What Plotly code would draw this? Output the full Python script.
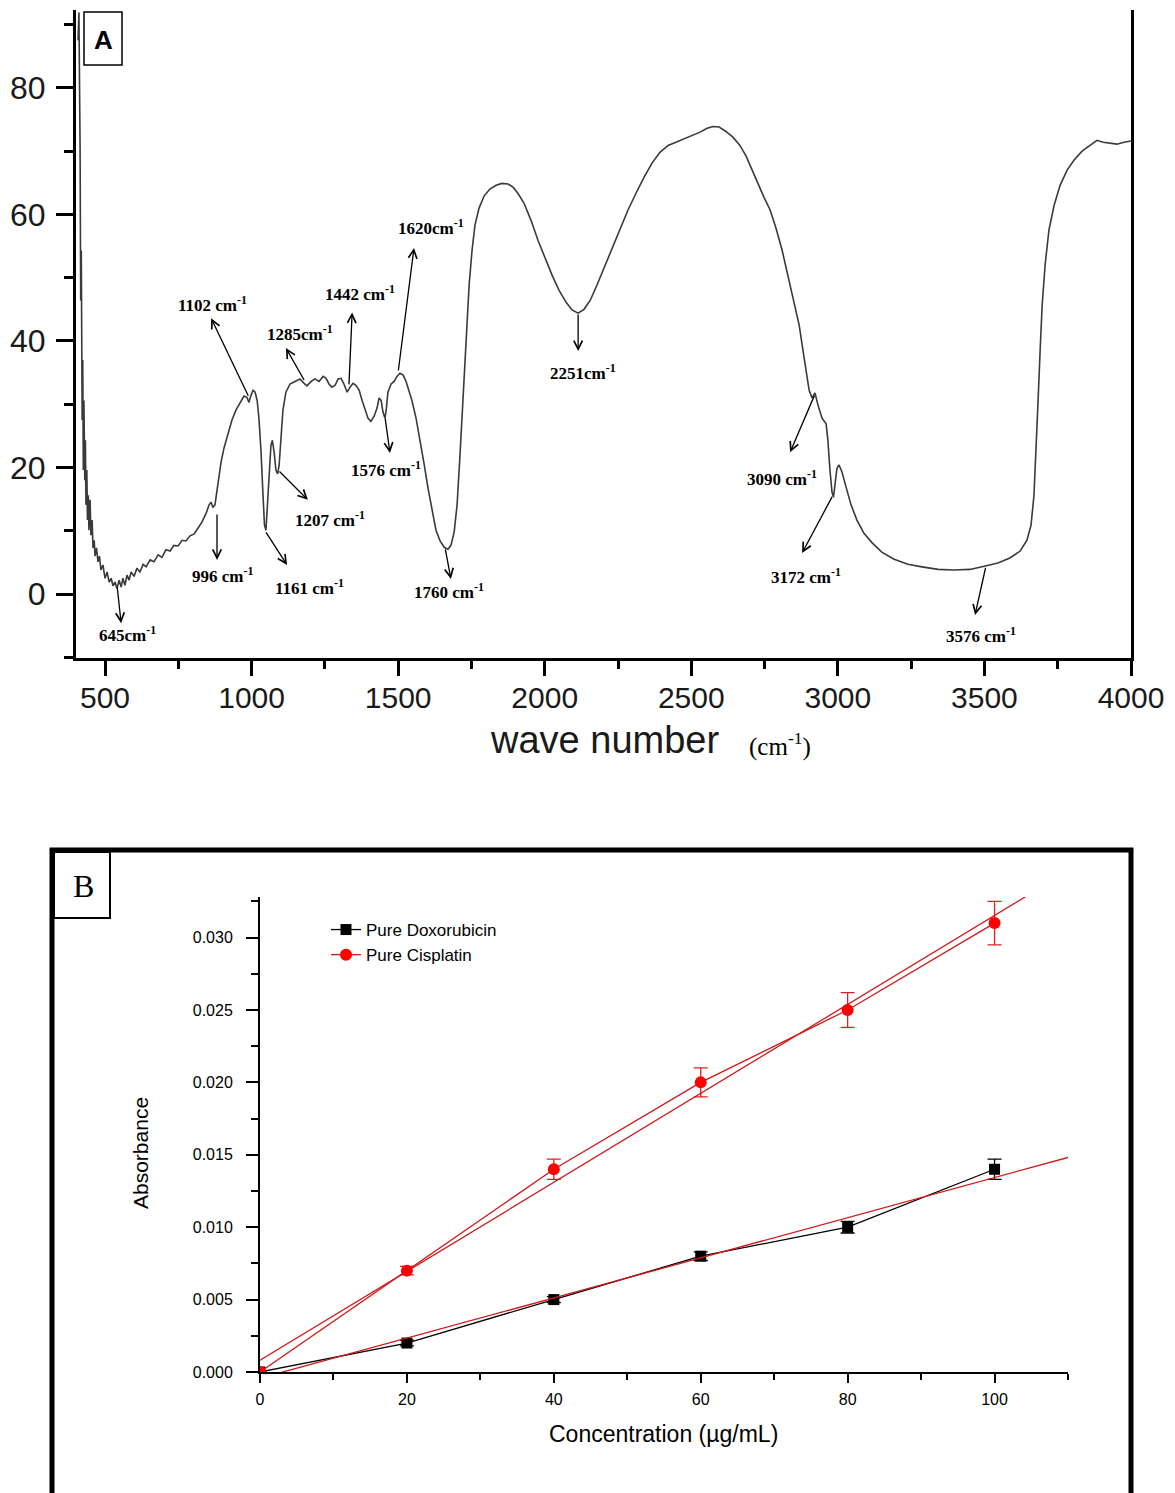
import numpy as np
import plotly.graph_objects as go

# ---------------- panel A : FTIR spectrum ----------------
wavenumber = [408, 411, 415, 417, 419, 422, 424, 426, 428, 431, 433, 435, 438, 440, 443, 445,
              449, 452, 456, 459, 463, 466, 471, 476, 481, 486, 493, 500, 507, 514, 521, 527,
              534, 541, 548, 555, 561, 568, 575, 582, 589, 599, 609, 619, 630, 640, 654, 667,
              681, 694, 708, 722, 735, 749, 763, 776, 790, 804, 817, 831, 845, 855, 862, 868,
              875, 882, 889, 896, 906, 920, 933, 947, 961, 974, 984, 991, 998, 1005, 1012, 1019,
              1025, 1032, 1039, 1044, 1049, 1054, 1060, 1066, 1071, 1077, 1083, 1089, 1094, 1100,
              1107, 1117, 1131, 1148, 1165, 1179, 1189, 1203, 1216, 1230, 1244, 1254, 1264, 1274,
              1285, 1295, 1305, 1315, 1326, 1336, 1346, 1356, 1367, 1377, 1387, 1397, 1407, 1418,
              1428, 1435, 1442, 1448, 1455, 1460, 1465, 1476, 1486, 1496, 1506, 1517, 1527, 1537,
              1547, 1561, 1575, 1588, 1602, 1616, 1629, 1643, 1657, 1670, 1680, 1691, 1701, 1711,
              1721, 1732, 1742, 1752, 1762, 1776, 1793, 1813, 1834, 1854, 1875, 1892, 1909, 1929,
              1953, 1977, 2001, 2025, 2049, 2073, 2093, 2114, 2134, 2155, 2178, 2202, 2230, 2257,
              2284, 2311, 2339, 2366, 2393, 2421, 2448, 2475, 2503, 2530, 2554, 2574, 2595, 2618,
              2642, 2666, 2687, 2707, 2728, 2748, 2769, 2789, 2810, 2830, 2850, 2868, 2881, 2891,
              2902, 2912, 2922, 2932, 2946, 2960, 2966, 2973, 2980, 2985, 2990, 2997, 3004, 3014,
              3028, 3045, 3065, 3089, 3117, 3151, 3192, 3239, 3287, 3342, 3396, 3451, 3499, 3546,
              3587, 3622, 3645, 3659, 3669, 3676, 3683, 3690, 3697, 3707, 3720, 3738, 3758, 3782,
              3806, 3833, 3860, 3884, 3905, 3929, 3952, 3976, 4000]
transmittance = [87.5, 91.9, 70.1, 46.4, 54.3, 27.5, 37.0, 19.6, 30.6, 18.0, 24.3, 14.1, 19.6, 11.7, 15.6, 10.1,
                 14.9, 9.3, 11.7, 7.3, 8.5, 6.0, 7.3, 5.1, 6.0, 3.8, 4.6, 2.5, 3.5, 1.9, 2.5, 1.3,
                 1.9, 0.9, 2.2, 1.1, 2.5, 1.4, 3.0, 2.2, 3.5, 2.8, 4.1, 3.5, 4.7, 4.3, 5.4, 5.1,
                 6.2, 5.8, 7.0, 6.8, 7.7, 7.6, 8.5, 8.4, 9.2, 9.5, 10.4, 11.4, 12.8, 14.1, 14.5, 13.7,
                 14.1, 16.4, 18.8, 20.9, 23.1, 25.6, 27.5, 29.1, 30.3, 31.3, 31.1, 30.3, 31.4, 32.2, 31.9, 30.6,
                 27.8, 22.7, 15.6, 10.9, 10.1, 14.1, 19.6, 23.5, 24.3, 22.4, 19.6, 19.0, 20.4, 24.3,
                 29.1, 31.9, 33.2, 33.6, 34.0, 33.3, 32.9, 33.6, 34.0, 33.6, 34.4, 34.1, 33.2, 32.7,
                 33.0, 34.0, 34.1, 33.2, 31.9, 32.7, 33.3, 33.0, 32.2, 30.6, 29.1, 27.8, 27.3, 28.1,
                 29.4, 31.0, 30.6, 28.8, 27.8, 29.4, 31.9, 33.2, 33.6, 34.4, 34.9, 34.6, 33.6, 32.2,
                 30.6, 27.8, 24.3, 20.7, 16.7, 13.0, 10.1, 8.4, 7.4, 7.1, 7.7, 9.8, 14.1, 22.0,
                 31.4, 40.9, 48.8, 54.3, 58.3, 61.0, 62.9, 64.0, 64.6, 64.9, 64.8, 64.3, 63.3, 61.8,
                 59.1, 55.9, 53.1, 50.4, 48.0, 46.1, 44.9, 44.4, 45.0, 46.4, 48.8, 51.5, 54.7, 57.8,
                 60.7, 63.3, 65.9, 68.1, 69.8, 70.9, 71.4, 71.9, 72.5, 73.0, 73.6, 73.9, 73.8, 73.1,
                 72.2, 70.9, 69.2, 67.0, 64.8, 62.7, 60.7, 57.8, 54.3, 50.4, 46.4, 42.5, 38.5, 35.1,
                 32.2, 31.0, 31.8, 29.9, 27.8, 26.9, 24.3, 19.6, 16.1, 15.3, 17.7, 19.9, 20.4, 19.3,
                 16.9, 14.1, 11.7, 9.6, 8.1, 6.6, 5.5, 4.7, 4.3, 3.9, 3.8, 3.9, 4.4, 4.9,
                 5.7, 6.8, 8.5, 10.9, 15.6, 22.0, 30.6, 38.5, 45.7, 52.0, 57.5, 61.5, 64.6, 67.0,
                 68.6, 70.0, 70.9, 71.7, 71.4, 71.2, 71.1, 71.4, 71.6]

peak_labels = ["645cm<sup>-1</sup>", "996 cm<sup>-1</sup>", "1161 cm<sup>-1</sup>", "1207 cm<sup>-1</sup>",
               "1102 cm<sup>-1</sup>", "1285cm<sup>-1</sup>", "1442 cm<sup>-1</sup>", "1576 cm<sup>-1</sup>",
               "1620cm<sup>-1</sup>", "1760 cm<sup>-1</sup>", "2251cm<sup>-1</sup>", "3090 cm<sup>-1</sup>",
               "3172 cm<sup>-1</sup>", "3576 cm<sup>-1</sup>"]

# ---------------- panel B : calibration ----------------
concentration = [0, 20, 40, 60, 80, 100]
dox_abs = [0.000, 0.002, 0.005, 0.008, 0.010, 0.014]
dox_err = [0.0, 0.0002, 0.0002, 0.0003, 0.0004, 0.0007]
cis_abs = [0.000, 0.007, 0.014, 0.020, 0.025, 0.031]
cis_err = [0.0, 0.0003, 0.0007, 0.0010, 0.0012, 0.0015]

W, H = 1175, 1493
OFF = 8  # page body margin in the browser


def fx(p):
    return (p - OFF) / W


def fy(p):
    return 1 - (p - OFF) / H


fig = go.Figure()

fig.add_trace(go.Scatter(x=wavenumber, y=transmittance, mode='lines',
                         line=dict(color='#3a3a3a', width=1.6),
                         xaxis='x', yaxis='y', showlegend=False))

# data + linear fits
series = [("Pure Doxorubicin", dox_abs, dox_err, 'black', 'square', 11),
          ("Pure Cisplatin", cis_abs, cis_err, '#ff0000', 'circle', 12)]
for name, yv, ev, col, sym, sz in series:
    fig.add_trace(go.Scatter(x=concentration, y=yv, mode='lines+markers', name=name,
                             line=dict(color=col if col == 'black' else '#d01818', width=1.3),
                             marker=dict(symbol=sym, size=sz, color=col),
                             error_y=dict(type='data', array=ev, color=col if col == 'black' else '#e02020',
                                          thickness=1.3, width=7),
                             xaxis='x2', yaxis='y2'))
for yv in (dox_abs, cis_abs):
    k, b = np.polyfit(concentration, yv, 1)
    xf = np.array([0, 110])
    fig.add_trace(go.Scatter(x=xf, y=k * xf + b, mode='lines', line=dict(color='#d01818', width=1.3),
                             xaxis='x2', yaxis='y2', showlegend=False, hoverinfo='skip'))

# peak arrows: text position, arrow tail (on curve), arrow head
arrow_pos = [(578, -6.3, 541, 1.4, 555, -4.6), (902, 3.0, 882, 12.8, 882, 5.4),
             (1196, 1.1, 1046, 10.0, 1121, 4.6), (1267, 11.8, 1090, 19.6, 1192, 14.9),
             (868, 45.8, 991, 31.1, 862, 43.6), (1165, 41.2, 1182, 33.6, 1117, 38.9),
             (1370, 47.6, 1332, 32.9, 1343, 44.5), (1459, 19.7, 1455, 28.0, 1472, 22.3),
             (1612, 58.0, 1500, 35.1, 1554, 54.7), (1674, 0.5, 1660, 7.3, 1680, 2.4),
             (2131, 35.1, 2114, 44.4, 2114, 38.4), (2810, 18.3, 2922, 31.6, 2837, 22.4),
             (2891, 2.8, 2983, 15.6, 2878, 6.5), (3488, -6.5, 3505, 4.4, 3468, -3.3)]
serif = 'Liberation Serif, Times New Roman, serif'
for lab, (tx, ty, ax, ay, hx, hy) in zip(peak_labels, arrow_pos):
    fig.add_annotation(x=hx, y=hy, ax=ax, ay=ay, xref='x', yref='y', axref='x', ayref='y',
                       showarrow=True, arrowhead=5, arrowsize=1.3, arrowwidth=1.3,
                       arrowcolor='black', standoff=0, startstandoff=0, text='')
    fig.add_annotation(x=tx, y=ty, xref='x', yref='y', text=lab, showarrow=False,
                       font=dict(family=serif, size=17, color='black', weight='bold'))


def note(px_, py_, text, **kw):
    fig.add_annotation(x=fx(px_), y=fy(py_), xref='paper', yref='paper', text=text,
                       showarrow=False, xanchor='center', yanchor='middle', **kw)


# axis titles and panel letters
note(604, 740, 'wave number', font=dict(size=38, color='#1a1a1a'))
note(780, 745, '(cm<sup>-1</sup>)', font=dict(family=serif, size=25, color='black'))
note(103, 40, 'A', font=dict(size=26, color='black', weight='bold'))
note(83, 886, 'B', font=dict(family=serif, size=32, color='black'))
note(140, 1153, 'Absorbance', textangle=-90, font=dict(size=21, color='black'))
note(663, 1434, 'Concentration (µg/mL)', font=dict(size=23, color='black'))

fig.add_shape(type='rect', xref='paper', yref='paper', x0=fx(84), x1=fx(122), y0=fy(65), y1=fy(12),
              line=dict(color='black', width=1.5))
fig.add_shape(type='rect', xref='paper', yref='paper', x0=fx(52), x1=fx(1131), y0=fy(1530), y1=fy(850),
              line=dict(color='black', width=5))
fig.add_shape(type='rect', xref='paper', yref='paper', x0=fx(54), x1=fx(110), y0=fy(918), y1=fy(852),
              line=dict(color='black', width=2))

axA = dict(showline=True, linecolor='black', linewidth=3, ticks='outside', tickcolor='black',
           tickwidth=3, ticklen=15, showgrid=False, zeroline=False, automargin=False)
axB = dict(showline=True, linecolor='black', linewidth=2, ticks='outside', tickcolor='black',
           tickwidth=2, showgrid=False, zeroline=False, automargin=False,
           tickfont=dict(size=16, color='black'))

fig.update_layout(
    width=W, height=H, margin=dict(l=0, r=0, t=0, b=0, autoexpand=False),
    paper_bgcolor='white', plot_bgcolor='white',
    font=dict(family='Liberation Sans, Arial, sans-serif', color='black'),
    xaxis=dict(axA, domain=[fx(76), fx(1131)], range=[401, 4000], anchor='y',
               tick0=500, dtick=500, ticklabelstandoff=-4,
               minor=dict(ticks='outside', tick0=500, dtick=250, ticklen=8, tickwidth=3, tickcolor='black'),
               tickfont=dict(size=30, color='#1a1a1a')),
    yaxis=dict(axA, domain=[fy(658), fy(10)], range=[-10.1, 92.3], anchor='x', mirror=True,
               tick0=0, dtick=20, ticklen=17, ticklabelstandoff=4,
               minor=dict(ticks='outside', tick0=0, dtick=10, ticklen=9, tickwidth=3, tickcolor='black'),
               tickfont=dict(size=32, color='#1a1a1a')),
    xaxis2=dict(axB, domain=[fx(260), fx(1068)], range=[0, 110], anchor='y2',
                tick0=0, dtick=20, ticklen=9, ticklabelstandoff=3,
                minor=dict(ticks='outside', tick0=0, dtick=10, ticklen=6, tickwidth=2, tickcolor='black')),
    yaxis2=dict(axB, domain=[fy(1372), fy(897)], range=[0, 0.0328], anchor='x2',
                tick0=0, dtick=0.005, tickformat='.3f', ticklen=12, ticklabelstandoff=10,
                minor=dict(ticks='outside', tick0=0, dtick=0.0025, ticklen=7, tickwidth=2, tickcolor='black')),
    legend=dict(x=fx(326), y=fy(912), xanchor='left', yanchor='top', font=dict(size=17),
                bgcolor='rgba(0,0,0,0)', tracegroupgap=0),
)

fig.write_html("out.html")
